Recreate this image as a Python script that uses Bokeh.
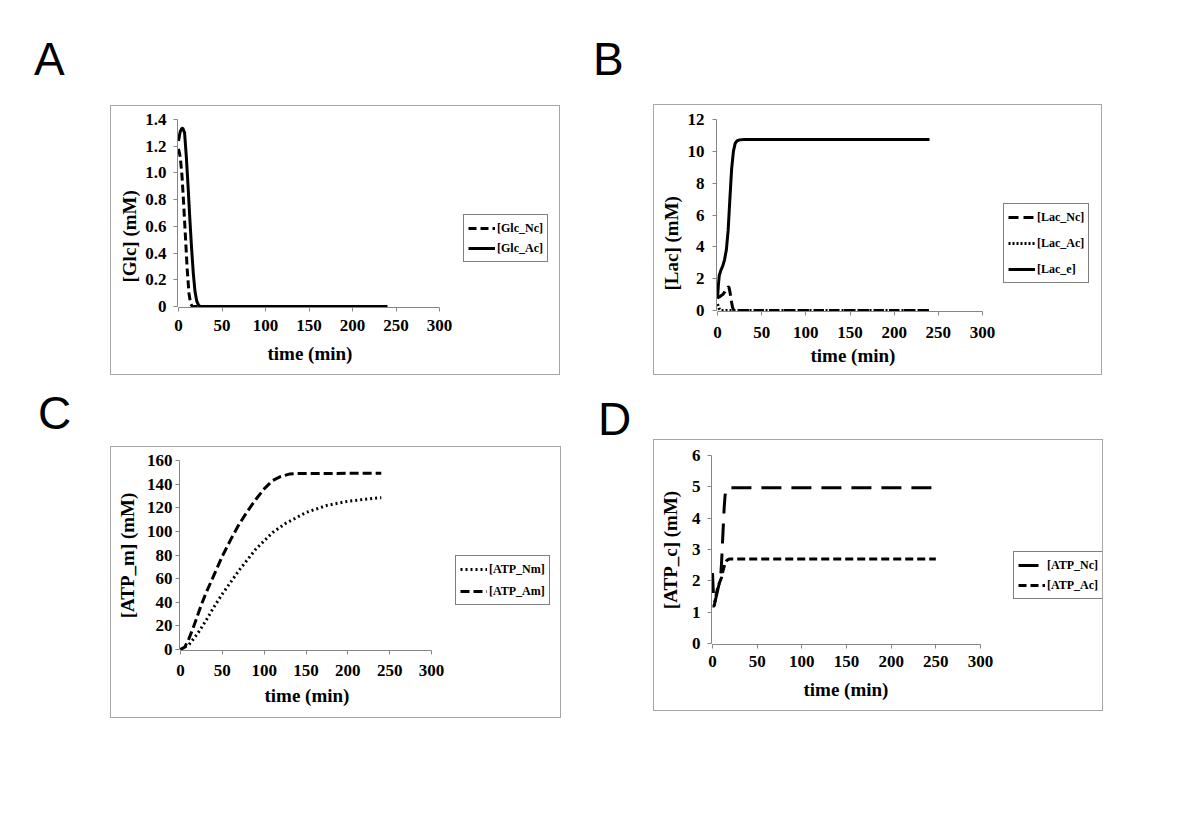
import math
from bokeh.plotting import figure
from bokeh.models import Range1d, FixedTicker, Legend, LegendItem, Title, Div, Spacer
from bokeh.layouts import row, column
from bokeh.embed import file_html
from bokeh.resources import INLINE

# ---------------- data ----------------
x_ticks = [0, 50, 100, 150, 200, 250, 300]
x_tick_labels = ["0", "50", "100", "150", "200", "250", "300"]
x_title = "time (min)"

# Panel A
glc_y_ticks = [0, 0.2, 0.4, 0.6, 0.8, 1.0, 1.2, 1.4]
glc_y_labels = ["0", "0.2", "0.4", "0.6", "0.8", "1.0", "1.2", "1.4"]
glc_nc_t = [0, 2, 4, 6, 8, 10, 12, 14, 16, 240]
glc_nc = [1.18, 1.12, 0.98, 0.76, 0.52, 0.28, 0.10, 0.02, 0.0, 0.0]
glc_ac_t = [0, 2, 4, 5, 7, 9, 11, 13, 15, 17, 19, 21, 23, 25, 240]
glc_ac = [1.24, 1.31, 1.335, 1.335, 1.30, 1.12, 0.90, 0.66, 0.44, 0.25, 0.11, 0.04, 0.01, 0.0, 0.0]

# Panel B
lac_y_ticks = [0, 2, 4, 6, 8, 10, 12]
lac_y_labels = ["0", "2", "4", "6", "8", "10", "12"]
lac_nc_t = [0, 2, 4, 6, 8, 10, 12, 13, 14, 15, 16, 17, 18, 19, 20, 240]
lac_nc = [0.8, 0.85, 0.93, 1.0, 1.15, 1.35, 1.48, 1.45, 1.2, 0.85, 0.5, 0.2, 0.06, 0.01, 0.0, 0.0]
lac_ac_t = [0, 1, 2, 3, 4, 240]
lac_ac = [0.4, 0.25, 0.1, 0.03, 0.0, 0.0]
lac_e_t = [0, 1, 2, 4, 6, 8, 10, 12, 14, 16, 18, 20, 22, 25, 30, 240]
lac_e = [0.75, 1.6, 2.2, 2.55, 2.8, 3.2, 3.8, 5.0, 7.0, 8.9, 10.0, 10.5, 10.65, 10.72, 10.74, 10.74]

# Panel C
atpm_y_ticks = [0, 20, 40, 60, 80, 100, 120, 140, 160]
atpm_y_labels = ["0", "20", "40", "60", "80", "100", "120", "140", "160"]
atp_nm_t = [0, 10, 20, 30, 40, 50, 60, 70, 80, 90, 100, 110, 125, 150, 175, 200, 225, 240]
atp_nm = [0, 4, 13, 24, 36, 47, 57, 67, 76, 85, 92, 99, 106.5, 116, 122, 125.5, 127.5, 128.5]
atp_am_t = [0, 5, 10, 15, 20, 25, 30, 40, 50, 60, 70, 80, 90, 100, 110, 120, 130, 140, 240]
atp_am = [0, 2, 9, 18, 28, 38, 47, 63, 79, 93, 106, 117, 127, 136, 143, 146.5, 148.5, 149, 149.2]

# Panel D
atpc_y_ticks = [0, 1, 2, 3, 4, 5, 6]
atpc_y_labels = ["0", "1", "2", "3", "4", "5", "6"]
atp_nc_t = [0, 1, 2, 3, 5, 7, 9, 10, 11, 12, 13, 14, 15, 17, 20, 250]
atp_nc = [2.25, 1.6, 1.3, 1.35, 1.6, 1.85, 2.1, 2.5, 3.1, 3.7, 4.3, 4.7, 4.9, 4.96, 4.97, 4.97]
atp_ac_t = [0, 2, 4, 6, 8, 10, 12, 14, 16, 18, 20, 250]
atp_ac = [1.2, 1.2, 1.55, 1.8, 1.95, 2.1, 2.35, 2.55, 2.65, 2.69, 2.7, 2.7]

SERIF = "Liberation Serif"
AXIS_GRAY = "#868686"
BOX_GRAY = "#a6a6a6"
XTITLE_HALF_W = 42


def make_panel(box, axis_px, ymax, yticks, ylabels, ytitle, ytitle_mode, series,
               legend_box, y_stand, x_stand, xtitle_stand, leg_spacing, xtitle_cx):
    bl, bt, br, bb = box
    hl, ht, hr, hb = bl + 1, bt + 1, br - 1, bb - 1   # host inside 1px outline
    x0, y0, x1, y1 = axis_px
    ll, lt, lr, lb = legend_box
    pad = 1
    fl = x0 - pad
    fb = y0 + pad
    fr = min(lr + 6, hr)
    pxu = (x1 - x0) / 300.0
    p = figure(width=hr - hl, height=hb - ht, output_backend="svg", toolbar_location=None,
               x_range=Range1d(-pad / pxu, (fr - x0) / pxu),
               y_range=Range1d(-pad * ymax / (y0 - y1), ymax),
               min_border_left=fl - hl, min_border_right=hr - fr,
               min_border_top=y1 - ht, min_border_bottom=hb - fb,
               background_fill_color="white", border_fill_color="white",
               outline_line_color=None,
               styles={"outline": "1px solid " + BOX_GRAY})
    p.xgrid.grid_line_color = None
    p.ygrid.grid_line_color = None

    for ax in (p.xaxis[0], p.yaxis[0]):
        ax.axis_line_color = AXIS_GRAY
        ax.major_tick_line_color = AXIS_GRAY
        ax.minor_tick_line_color = None
        ax.major_tick_out = 4
        ax.major_tick_in = 0
        ax.major_label_text_font = SERIF
        ax.major_label_text_font_style = "bold"
        ax.major_label_text_font_size = "17px"
        ax.major_label_text_color = "black"
        ax.axis_label_text_font = SERIF
        ax.axis_label_text_font_style = "bold"
        ax.axis_label_text_font_size = "19px"
        ax.axis_label_text_color = "black"

    xa = p.xaxis[0]
    xa.ticker = FixedTicker(ticks=x_ticks)
    xa.major_label_overrides = dict(zip(x_ticks, x_tick_labels))
    xa.bounds = (0, 300)
    xa.major_label_standoff = x_stand
    p.add_layout(Title(text=x_title, align="left", vertical_align="top",
                       offset=xtitle_cx - XTITLE_HALF_W - fl, standoff=xtitle_stand,
                       text_font=SERIF, text_font_style="bold",
                       text_font_size="19px", text_color="black"), "below")

    ya = p.yaxis[0]
    ya.ticker = FixedTicker(ticks=yticks)
    ya.major_label_overrides = dict(zip(yticks, ylabels))
    ya.bounds = (0, ymax)
    ya.major_label_standoff = y_stand

    kind, val = ytitle_mode
    if kind == "axis":
        ya.axis_label = ytitle
        ya.axis_label_standoff = val
    else:
        p.add_layout(Title(text=ytitle, align="left", offset=val, standoff=6,
                           text_font=SERIF, text_font_style="bold",
                           text_font_size="19px", text_color="black"), "left")

    items = []
    for t, v, dash, lw, lab in series:
        r = p.line(t, v, line_color="black", line_width=lw, line_dash=dash)
        items.append(LegendItem(label=lab, renderers=[r]))

    leg = Legend(items=items, location=(ll - fl, fb - lb),
                 border_line_color="black", border_line_width=1,
                 background_fill_color="white", background_fill_alpha=1,
                 label_text_font=SERIF, label_text_font_style="bold",
                 label_text_font_size="12px", label_text_color="black",
                 glyph_width=27, glyph_height=18, label_height=18,
                 label_standoff=2, padding=4, spacing=leg_spacing, margin=0)
    p.add_layout(leg)
    return p


pA = make_panel((110, 105, 560, 375), (178, 307, 439, 119), 1.4, glc_y_ticks, glc_y_labels,
                "[Glc] (mM)", ("title", 25),
                [(glc_nc_t, glc_nc, "8 4", 3, "[Glc_Nc]"),
                 (glc_ac_t, glc_ac, "solid", 3, "[Glc_Ac]")],
                (463, 217, 551, 263), 7, 8, 18, 2, 309)

pB = make_panel((653, 104, 1102, 375), (717, 310, 982, 119), 12, lac_y_ticks, lac_y_labels,
                "[Lac] (mM)", ("title", 21),
                [(lac_nc_t, lac_nc, "10 5", 3, "[Lac_Nc]"),
                 (lac_ac_t, lac_ac, "2 2", 3, "[Lac_Ac]"),
                 (lac_e_t, lac_e, "solid", 3, "[Lac_e]")],
                (1003, 207, 1093, 283), 8, 11, 8, 8, 852)

pC = make_panel((110, 446, 561, 718), (180, 649, 431, 460), 160, atpm_y_ticks, atpm_y_labels,
                "[ATP_m] (mM)", ("axis", 6),
                [(atp_nm_t, atp_nm, "2 3", 3, "[ATP_Nm]"),
                 (atp_am_t, atp_am, "9 4", 3, "[ATP_Am]")],
                (455, 556, 551, 605), 3, 10, 12, 4, 306)

pD = make_panel((653, 439, 1103, 711), (712, 643, 980, 455), 6, atpc_y_ticks, atpc_y_labels,
                "[ATP_c] (mM)", ("axis", 8),
                [(atp_nc_t, atp_nc, "20 10", 3, "[ATP_Nc]"),
                 (atp_ac_t, atp_ac, "8 4", 3, "[ATP_Ac]")],
                (1013, 553, 1100, 599), 7, 7, 18, 2, 845)


def letter(ch):
    return Div(text=ch, width=50, height=36, margin=(0, 0, 0, 0),
               styles={"font-family": "'Liberation Sans', Arial, sans-serif",
                       "font-size": "46px", "line-height": "40px", "color": "black"})


left = column(
    Spacer(height=39),
    row(Spacer(width=34), letter("A")),
    Spacer(height=31),
    row(Spacer(width=111), pA),
    Spacer(height=19),
    row(Spacer(width=38), letter("C")),
    Spacer(height=18),
    row(Spacer(width=111), pC),
)

right = column(
    Spacer(height=39),
    row(Spacer(width=33), letter("B")),
    Spacer(height=30),
    row(Spacer(width=94), pB),
    Spacer(height=25),
    row(Spacer(width=38), letter("D")),
    Spacer(height=5),
    row(Spacer(width=94), pD),
)

layout = row(left, right)

open("out.html", "w").write(file_html(layout, INLINE))
